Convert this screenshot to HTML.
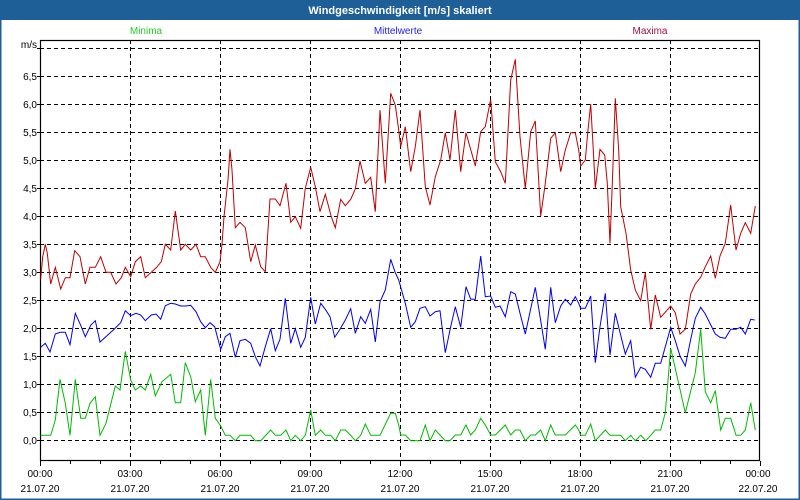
<!DOCTYPE html>
<html><head><meta charset="utf-8"><style>
html,body{margin:0;padding:0;background:#fff}
svg{display:block;font-family:"Liberation Sans",sans-serif}
</style></head><body>
<svg width="800" height="500" viewBox="0 0 800 500" xmlns="http://www.w3.org/2000/svg">
<rect x="0" y="0" width="800" height="500" fill="#fff"/>
<rect x="0.5" y="0.5" width="799" height="499" fill="none" stroke="#1d5f96" stroke-width="2"/>
<rect x="0" y="0" width="800" height="20" fill="#1d5f96"/>
<text x="400" y="14" fill="#fff" font-size="11" font-weight="bold" text-anchor="middle">Windgeschwindigkeit [m/s] skaliert</text>
<text x="146" y="34" fill="#22cc22" font-size="10" text-anchor="middle">Minima</text>
<text x="398" y="34" fill="#2222ee" font-size="10" text-anchor="middle">Mittelwerte</text>
<text x="650" y="34" fill="#a01040" font-size="10" text-anchor="middle">Maxima</text>
<g stroke="#000" stroke-width="1" stroke-dasharray="4,3" fill="none">
<path d="M40 48.5H760M40 76.5H760M40 104.5H760M40 132.5H760M40 160.5H760M40 188.5H760M40 216.5H760M40 244.5H760M40 272.5H760M40 300.5H760M40 328.5H760M40 356.5H760M40 384.5H760M40 412.5H760M40 440.5H760"/>
<path d="M130.5 40V461M220.5 40V461M310.5 40V461M400.5 40V461M490.5 40V461M580.5 40V461M670.5 40V461"/>
</g>
<rect x="40.5" y="40.5" width="719" height="420" fill="none" stroke="#000" stroke-width="1.2"/>
<g stroke="#000" stroke-width="1">
<path d="M40.5 461V466M70.5 461V464M100.5 461V464M130.5 461V466M160.5 461V464M190.5 461V464M220.5 461V466M250.5 461V464M280.5 461V464M310.5 461V466M340.5 461V464M370.5 461V464M400.5 461V466M430.5 461V464M460.5 461V464M490.5 461V466M520.5 461V464M550.5 461V464M580.5 461V466M610.5 461V464M640.5 461V464M670.5 461V466M700.5 461V464M730.5 461V464M760.5 461V466"/>
<path d="M37 48.5H40M37 76.5H40M37 104.5H40M37 132.5H40M37 160.5H40M37 188.5H40M37 216.5H40M37 244.5H40M37 272.5H40M37 300.5H40M37 328.5H40M37 356.5H40M37 384.5H40M37 412.5H40M37 440.5H40"/>
</g>
<g font-size="10" fill="#000" text-anchor="end">
<text x="37" y="48">m/s</text>
<text x="37" y="80">6,5</text><text x="37" y="108">6,0</text><text x="37" y="136">5,5</text><text x="37" y="164">5,0</text>
<text x="37" y="192">4,5</text><text x="37" y="220">4,0</text><text x="37" y="248">3,5</text><text x="37" y="276">3,0</text>
<text x="37" y="304">2,5</text><text x="37" y="332">2,0</text><text x="37" y="360">1,5</text><text x="37" y="388">1,0</text>
<text x="37" y="416">0,5</text><text x="37" y="444">0,0</text>
</g>
<g font-size="10" fill="#000" text-anchor="middle">
<text x="40" y="477">00:00</text><text x="130" y="477">03:00</text><text x="220" y="477">06:00</text><text x="310" y="477">09:00</text><text x="400" y="477">12:00</text><text x="490" y="477">15:00</text><text x="580" y="477">18:00</text><text x="670" y="477">21:00</text><text x="758" y="477">00:00</text>
<text x="40" y="492">21.07.20</text><text x="130" y="492">21.07.20</text><text x="220" y="492">21.07.20</text><text x="310" y="492">21.07.20</text><text x="400" y="492">21.07.20</text><text x="490" y="492">21.07.20</text><text x="580" y="492">21.07.20</text><text x="670" y="492">21.07.20</text><text x="758" y="492">22.07.20</text>
</g>
<g fill="none" stroke-width="1">
<polyline stroke="#c00000" points="40.7,279 42.7,256.7 45.3,244.3 47.3,253.3 50.7,284 55.3,267.3 60.7,289 65.3,277.7 70,277.7 74.7,250.7 80,256.7 85.3,284 90,267.3 95.3,267.3 100.7,256.7 106,272.3 110.7,272.3 116,284 121.3,277.7 125.3,267.3 130.7,276.7 135.3,261.7 140.7,256.7 145.3,277.7 151.3,272.3 156.7,267.3 161.3,261.7 165.3,244.3 170.7,250 175.3,211 180.7,250 185.3,244.3 190.7,250 196,244.3 200.7,256.7 205.3,256.7 210.7,267.3 215.3,272.3 220,261.7 222,244.3 224,216.7 228,180 230,149.3 232,170 235.3,227.7 240,222.3 245.3,227.7 250.7,261.7 255.3,245 260.7,266.7 265.3,271.7 270,199 275.3,199 280,205.7 286,183.3 290.7,222.3 295.3,216.7 300.7,228.3 305.3,188.3 310.7,167.3 315.3,186.7 320,211.7 325.3,194.3 331.3,216.7 335.3,227.7 340.7,199.3 345.3,205.7 350.7,199.3 355.3,189 360,161 365.3,183.3 370.7,177.3 375.3,211.7 380,110 385.3,183.3 390.7,93.3 395.3,105 398.7,130 400.7,146.7 405.3,126.7 410.7,171.7 415.3,146.7 420,110 425.3,186.7 430,205 435.3,176.7 440.7,160 445.3,132.7 450,160 455.3,110 460.7,171.7 466,132.7 475.3,166 480.7,131.7 485.3,126.7 490.7,99.3 495.3,161.7 500.7,171.7 505.3,183.3 510.7,80 515.3,59.3 520,136.7 525.3,188.3 530.7,131.7 535.3,121 540.7,216 545.3,183.3 550.7,138.3 555.3,132.7 560.7,171.7 565.3,150 570.7,132.7 575.3,132.7 578.7,150 580.7,166 585.3,160 588,130 590.7,104 593.3,150 595.3,188.3 600,149.3 604.7,155 607.3,183.3 610,243.3 612.7,173.3 615.3,98.3 618.7,150 620.7,206.7 626,233.3 630.7,270 635.3,290 640.7,300.7 645.3,272.7 650.7,329.3 655.3,295 660.7,317.3 670.7,306 675.3,312.7 680,334 685.3,329.3 690.7,294 695.3,284 700.7,277.3 705.3,266.7 710.7,256 715.3,278.3 720,256 725.3,243.3 730.7,205 736,250 740.7,233.3 745.3,222.7 750.7,233.3 755.3,206"/>
<polyline stroke="#0000ee" points="40.7,347.3 45.3,343.3 50,352 55.3,334 60,332.3 65.3,332.3 70,344.7 75.3,313.3 80.7,325.3 85.3,336.7 90.7,325.3 95.3,320.7 100,342 105.3,337.3 113.3,330 120.7,322.7 125.3,310.7 130.7,315.7 136,313.3 140.7,315 145.3,320.7 151.3,315 156,314 160.7,319.3 165.3,305.7 170.7,303.3 175.3,304 180.7,306 186,306 190.7,305.3 196,311.7 200.7,321.7 205.3,327.7 210,322.7 214.7,326.7 218,339.3 220.7,349.3 225.3,336.7 230,333.3 235.3,357.3 240,340.7 245.3,339.3 250.7,343.3 255.3,356.7 260,366 265.3,346.7 270.7,328.7 275.3,350.7 280,339.3 285.3,298.3 290.7,343.3 295.3,328.7 300.7,347.3 305.3,337.3 310.7,297.3 315.3,324 320.7,303.3 325.3,309.3 330,316.7 334.7,337.3 340,329.3 345.3,320 350.7,308.7 355.3,333.3 360.7,316.7 365.3,323.3 370.7,309.3 375.3,342 380,301.7 385.3,290 390.7,259.3 395.3,272.7 398.7,280 405.3,303.3 410.7,327.3 415.3,321.7 420,308.3 425.3,306.7 430,316 435.3,311.7 440,310.7 445.3,352.7 450.7,326.7 455.3,306.7 460.7,327.3 466,286.7 470.7,299.3 475.3,299.3 480.7,256 485.3,296.7 490.7,296 495.3,307.3 500,306 505.3,316.7 510.7,291.7 515.3,294 520,313.3 525.3,334 535.3,287.3 540.7,320.7 545.3,349.3 550.7,287.3 555.3,322.7 560.7,306 565.3,299.3 570.7,305 575.3,296.7 578.7,303.3 580.7,308.3 585.3,308.3 590.7,296 595.3,362.7 600,326.7 605.3,293.3 610,355 615.3,313.3 625.3,354 630.7,340.7 635.3,377.3 640.7,367.3 645.3,369.3 650.7,377.3 655.3,363.3 660.7,363.3 670.7,327.3 675.3,340.7 680,356 685.3,366 690.7,339.3 695.3,318.3 700.7,307.3 705.3,314 715.3,334 720,337.3 725.3,338.3 730.7,329.3 736,329.3 740.7,327.3 745.3,334 750.7,319.3 754.7,320"/>
<polyline stroke="#00bb00" points="40.7,435.3 50.7,435.3 55.3,420 60,379.3 65.3,403.3 70,435.3 75.3,379.3 80.7,418.3 85.3,418.3 90,403.3 95.3,396.7 100,435.3 106,423.3 115.3,386 120,390 125.3,351.3 130.7,380 135.3,390 140.7,386 145.3,390 150.7,374.3 155.3,396 162,381.7 170.7,374.3 175.3,402.7 180.7,402.7 185.3,362.7 190.7,376.7 195.3,401.7 200.7,390 205.3,435.3 210.7,379.3 215.3,418.3 220.7,426 225.3,435.3 230,435.3 235.3,440.7 240,435.3 250.7,435.3 255.3,440.7 260.7,440.7 270.7,430 275.3,435.3 280.7,435.3 286,430 290.7,440.7 295.3,435.3 300.7,440.7 305.3,435.3 310.7,410 315.3,435.3 320.7,430 325.3,435.3 330.7,435.3 335.3,440.7 340.7,430 345.3,430 350.7,435.3 355.3,440.7 360.7,435.3 365.3,424 370.7,435.3 380,435.3 390.7,413.3 395.3,413.3 398.7,425 400.7,435 405.3,435 410.7,440.7 420,440.7 425.3,425 430,440.7 435.3,430 445.3,440.7 450,440.7 455.3,435 460.7,435 466,425 470.7,435 475.3,430 480.7,418.3 485.3,425 490.7,435 495.3,435 505.3,425 510.7,435 515.3,430 520,430 525.3,440.7 530.7,435 535.3,435 540.7,430 545.3,440.7 550.7,425 555.3,435 565.3,435 575.3,425 578.7,430 580.7,435.3 585.3,435.3 590.7,424 595.3,440.7 605.3,430 610,435.3 620.7,435.3 625.3,440.7 630.7,435.3 635.3,440.7 640.7,435.3 646,440.7 655.3,430 660.7,430 665.3,412.7 670.7,348.3 685.3,412.7 695.3,372.7 700.7,329.3 705.3,391.7 710.7,402.7 715.3,390.7 720.7,430 725.3,418.3 730.7,418.3 736,435.3 740.7,435.3 745.3,430 750.7,402.7 755.3,430"/>
</g>
</svg>
</body></html>
